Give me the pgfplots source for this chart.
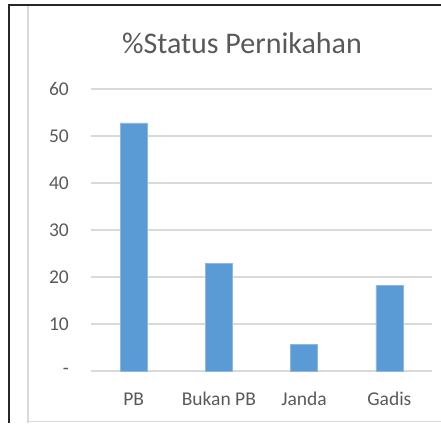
\documentclass[border=0pt]{standalone}
\usepackage{fontspec}
\setmainfont{Carlito}
\usepackage{pgfplots}
\pgfplotsset{compat=1.18}
\definecolor{barblue}{HTML}{5B9BD5}
\definecolor{txtgray}{HTML}{595959}
\definecolor{gridgray}{HTML}{D9D9D9}
\begin{document}
\begin{tikzpicture}[x=1pt,y=1pt]
\path[use as bounding box] (0,0) rectangle (441,423);
% chart frame
\draw[gridgray, line width=1.2pt] (28,0) -- (28,418);
\draw[gridgray, line width=1pt] (28,1.5) -- (441,1.5);
\draw[black!85, line width=2.2pt] (9,0) -- (9,418) -- (441,418);
\node[anchor=base, text=txtgray, font=\fontsize{30}{36}\selectfont] at (242,369) {\%Status Pernikahan};
\begin{axis}[
  at={(91pt,52pt)}, anchor=south west,
  scale only axis, width=341pt, height=282pt,
  xmin=-0.5, xmax=3.5, ymin=0, ymax=60,
  axis line style={draw=none},
  ytick={0,10,20,30,40,50,60},
  yticklabels={-,10,20,30,40,50,60},
  xtick={0,1,2,3},
  xticklabels={PB,Bukan PB,Janda,Gadis},
  major tick length=0pt,
  ymajorgrids, grid style={gridgray, line width=1.3pt},
  tick label style={text=txtgray, font=\fontsize{19.5}{22}\selectfont, inner sep=0pt},
  yticklabel style={anchor=east, xshift=-22pt},
  xticklabel style={anchor=base, yshift=-34pt},
  clip=false,
]
\addplot[ybar, bar width=27pt, fill=barblue, draw=barblue!70!white, line width=0.6pt]
  coordinates {(0,52.8) (1,22.9) (2,5.6) (3,18.2)};
\end{axis}
\end{tikzpicture}
\end{document}
